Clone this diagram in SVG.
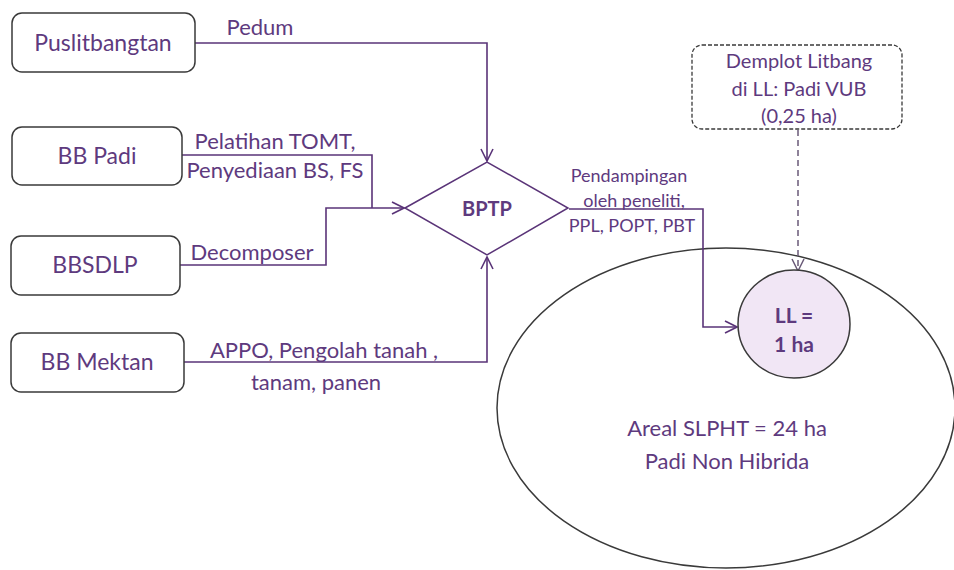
<svg xmlns="http://www.w3.org/2000/svg" width="954" height="570" viewBox="0 0 954 570">
<defs>
<style>
.box{fill:#fff;stroke:#3a3a3a;stroke-width:1.5}
.t{font-family:Lato,"Open Sans",sans-serif;fill:#5e3a7e;text-anchor:middle}
.n{font-size:23px}
.l{font-size:22px}
.s{font-size:18px}
.d{font-size:20px}
.b{font-weight:bold}
.c{fill:none;stroke:#5a3478;stroke-width:1.6}
</style>
<marker id="ah" viewBox="0 0 14 14" refX="13" refY="7" markerWidth="14" markerHeight="14" markerUnits="userSpaceOnUse" orient="auto">
<path d="M1,1 L13,7 L1,13" fill="none" stroke="#5a3478" stroke-width="1.6"/>
</marker>
<marker id="ahg" viewBox="0 0 14 14" refX="13" refY="7" markerWidth="14" markerHeight="14" markerUnits="userSpaceOnUse" orient="auto">
<path d="M1,1 L13,7 L1,13" fill="none" stroke="#6a5a78" stroke-width="1.5"/>
</marker>
</defs>
<rect width="954" height="570" fill="#fff"/>
<g id="areal">
<ellipse cx="726" cy="408" rx="229" ry="160" fill="none" stroke="#3a3a3a" stroke-width="1.5"/>
<text class="t l" x="727" y="436">Areal SLPHT = 24 ha</text>
<text class="t l" x="727" y="469">Padi Non Hibrida</text>
</g>
<g id="connectors">
<path class="c" d="M195,43 H487 V161" marker-end="url(#ah)"/>
<path class="c" d="M182,155 H372 V208"/>
<path class="c" d="M180,265 H326 V208 H404" marker-end="url(#ah)"/>
<path class="c" d="M184,362 H487 V257" marker-end="url(#ah)"/>
<path class="c" d="M569,209 H703 V327 H737" marker-end="url(#ah)"/>
<path d="M798,130 V271" fill="none" stroke="#6a5a78" stroke-width="1.5" stroke-dasharray="6,4" marker-end="url(#ahg)"/>
<text class="t l" x="260" y="35">Pedum</text>
<text class="t l" x="275" y="149">Pelatihan TOMT,</text>
<text class="t l" x="275" y="178">Penyediaan BS, FS</text>
<text class="t l" x="252" y="260">Decomposer</text>
<text class="t l" x="324" y="358">APPO, Pengolah tanah ,</text>
<text class="t l" x="316" y="390">tanam, panen</text>
<text class="t s" x="629" y="182">Pendampingan</text>
<text class="t s" x="634" y="207">oleh peneliti,</text>
<text class="t s" x="632" y="232">PPL, POPT, PBT</text>
</g>
<g id="puslitbangtan">
<rect class="box" x="12" y="13" width="183" height="59" rx="10"/>
<text class="t n" x="103" y="51">Puslitbangtan</text>
</g>
<g id="bbpadi">
<rect class="box" x="12" y="127" width="170" height="58" rx="10"/>
<text class="t n" x="97" y="164">BB Padi</text>
</g>
<g id="bbsdlp">
<rect class="box" x="11" y="236" width="169" height="59" rx="10"/>
<text class="t n" x="95" y="273">BBSDLP</text>
</g>
<g id="bbmektan">
<rect class="box" x="11" y="333" width="173" height="59" rx="10"/>
<text class="t n" x="97" y="370">BB Mektan</text>
</g>
<g id="bptp">
<polygon points="405,208 487,162 568,208 487,255" fill="#fff" stroke="#5a3478" stroke-width="1.5"/>
<text class="t b" x="487" y="216" style="font-size:20px">BPTP</text>
</g>
<g id="demplot">
<rect x="692" y="45" width="210" height="84" rx="10" fill="#fff" stroke="#3a3a3a" stroke-width="1.3" stroke-dasharray="4,2"/>
<text class="t d" x="799" y="68">Demplot Litbang</text>
<text class="t d" x="799" y="96">di LL: Padi VUB</text>
<text class="t d" x="799" y="123">(0,25 ha)</text>
</g>
<g id="ll">
<ellipse cx="794" cy="324" rx="56" ry="54" fill="#f1e6f5" stroke="#3a3a3a" stroke-width="1.5"/>
<text class="t b" x="794" y="323" style="font-size:21px">LL =</text>
<text class="t b" x="794" y="352" style="font-size:21px">1 ha</text>
</g>
</svg>
